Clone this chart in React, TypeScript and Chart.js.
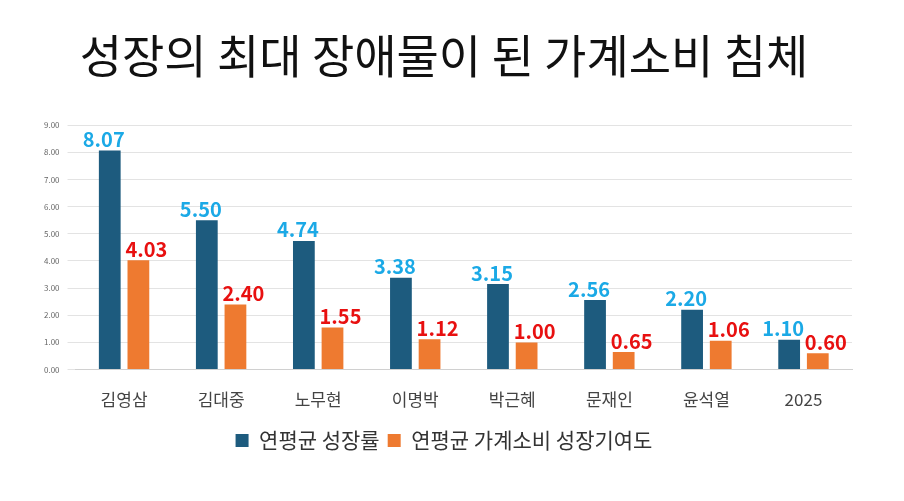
import React, { useEffect, useRef } from "react";
import { Chart, registerables } from "chart.js";
Chart.register(...registerables);

const categories = ["김영삼", "김대중", "노무현", "이명박", "박근혜", "문재인", "윤석열", "2025"];
const growth = [8.07, 5.5, 4.74, 3.38, 3.15, 2.56, 2.2, 1.1];
const consumption = [4.03, 2.4, 1.55, 1.12, 1.0, 0.65, 1.06, 0.6];
const seriesNames = ["연평균 성장률", "연평균 가계소비 성장기여도"];

const FONT = "'Noto Sans CJK KR', 'Noto Sans', sans-serif";

const labelPlugin = {
  id: "vals",
  afterDatasetsDraw(chart: any) {
    const ctx = chart.ctx;
    ctx.save();
    ctx.font = `bold 20px ${FONT}`;
    ctx.textAlign = "center";
    ctx.textBaseline = "bottom";
    chart.data.datasets.forEach((ds: any, i: number) => {
      const meta = chart.getDatasetMeta(i);
      ctx.fillStyle = i === 0 ? "#1BA9E6" : "#E81010";
      meta.data.forEach((bar: any, j: number) => {
        ctx.fillText(ds.data[j].toFixed(2), bar.x + (i === 0 ? -6 : 8), bar.y - 1);
      });
    });
    ctx.restore();
  },
};

export default function App() {
  const ref = useRef<HTMLCanvasElement>(null);
  useEffect(() => {
    const chart = new Chart(ref.current!, {
      type: "bar",
      data: {
        labels: categories,
        datasets: [
          { label: seriesNames[0], data: growth, backgroundColor: "#1D5B7E", categoryPercentage: 0.59, barPercentage: 0.76 },
          { label: seriesNames[1], data: consumption, backgroundColor: "#EE7A30", categoryPercentage: 0.59, barPercentage: 0.76 },
        ],
      },
      options: {
        animation: false,
        responsive: false,
        layout: { padding: { left: 36, right: 52, top: 0, bottom: 40 } },
        scales: {
          x: {
            grid: { display: false },
            border: { color: "#D0D0D0" },
            ticks: { color: "#444", font: { family: FONT, size: 17 }, padding: 12 },
          },
          y: {
            min: 0, max: 9,
            ticks: { stepSize: 1, color: "#666", font: { family: FONT, size: 8 }, callback: (v: any) => Number(v).toFixed(2), padding: 8 },
            grid: { color: "#E3E3E3" },
            border: { display: false },
          },
        },
        plugins: {
          title: { display: true, text: "성장의 최대 장애물이 된 가계소비 침체", color: "#111", font: { family: FONT, size: 46, weight: "normal" }, padding: { top: 28, bottom: 42 } },
          legend: {
            position: "bottom",
            labels: { color: "#333", font: { family: FONT, size: 21 }, boxWidth: 13, boxHeight: 13, padding: 8 },
          },
          tooltip: { enabled: false },
        },
      },
      plugins: [labelPlugin],
    });
    return () => chart.destroy();
  }, []);
  return (
    <div style={{ position: "fixed", left: 0, top: 0, width: 904, height: 501, background: "#fff" }}>
      <canvas ref={ref} width={904} height={501} />
    </div>
  );
}
